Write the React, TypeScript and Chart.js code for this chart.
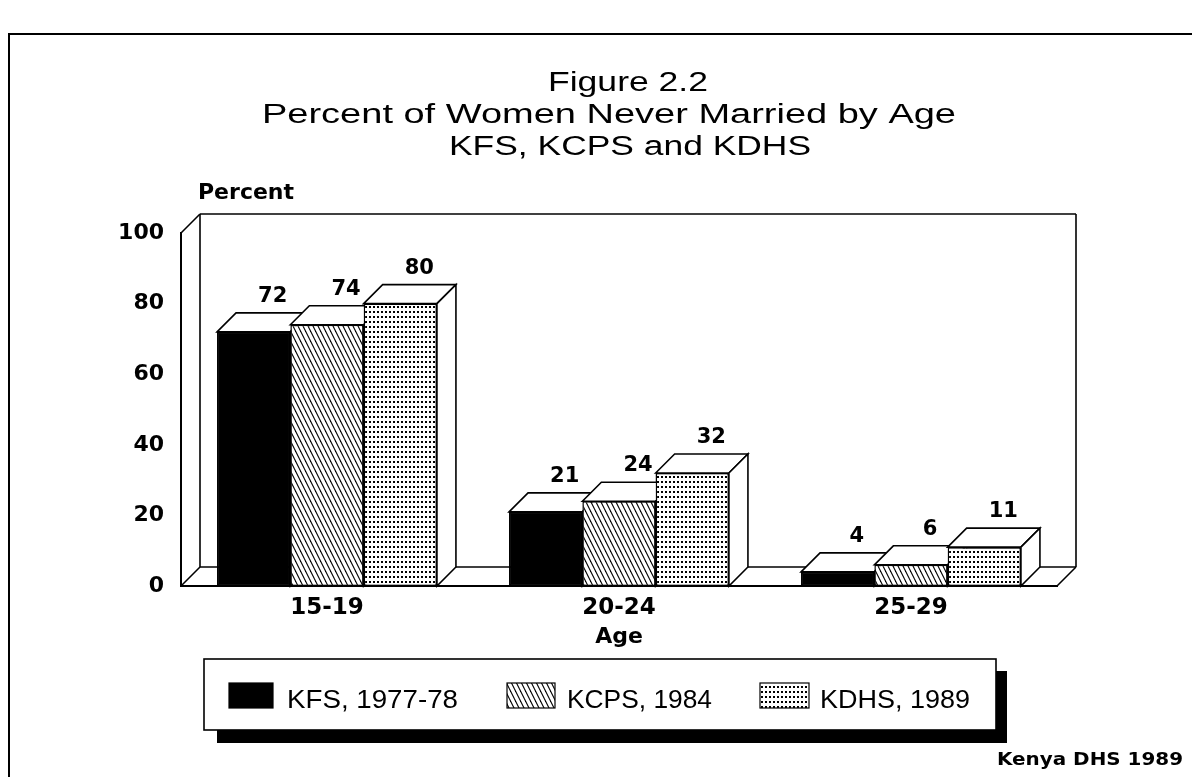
import React, { useEffect, useRef } from 'react';
import { Chart, registerables } from 'chart.js';

Chart.register(...registerables);

// ---- data ----
const categories = ['15-19', '20-24', '25-29'];
const seriesNames = ['KFS, 1977-78', 'KCPS, 1984', 'KDHS, 1989'];
const kfsValues = [72, 21, 4];
const kcpsValues = [74, 24, 6];
const kdhsValues = [80, 32, 11];
const yTickValues = [0, 20, 40, 60, 80, 100];
const titleLines = ['Figure 2.2', 'Percent of Women Never Married by Age', 'KFS, KCPS and KDHS'];
const yAxisLabel = 'Percent';
const xAxisLabel = 'Age';
const sourceNote = 'Kenya DHS 1989';

const DEPTH = 19;
const BOLD_FONT = '"DejaVu Sans", sans-serif';
const PLAIN_FONT = '"Liberation Sans", Arial, sans-serif';

function makeHatch(ctx: CanvasRenderingContext2D): CanvasPattern {
  const c = document.createElement('canvas');
  c.width = 5;
  c.height = 10;
  const g = c.getContext('2d')!;
  g.fillStyle = '#fff';
  g.fillRect(0, 0, 5, 10);
  g.strokeStyle = '#000';
  g.lineWidth = 1.1;
  for (let k = -3; k <= 3; k++) {
    g.beginPath();
    g.moveTo(k * 5 - 5, -10);
    g.lineTo(k * 5 + 10, 20);
    g.stroke();
  }
  return ctx.createPattern(c, 'repeat')!;
}

function makeDots(ctx: CanvasRenderingContext2D): CanvasPattern {
  const c = document.createElement('canvas');
  c.width = 4;
  c.height = 5;
  const g = c.getContext('2d')!;
  g.fillStyle = '#fff';
  g.fillRect(0, 0, 4, 5);
  g.fillStyle = '#000';
  g.fillRect(1, 1, 2, 2);
  return ctx.createPattern(c, 'repeat')!;
}

function drawText(
  ctx: CanvasRenderingContext2D,
  text: string,
  x: number,
  y: number,
  font: string,
  align: 'left' | 'center' | 'right',
  opts: { width?: number; scaleX?: number } = {}
) {
  ctx.save();
  ctx.font = font;
  const w = ctx.measureText(text).width;
  const sx = opts.width ? opts.width / w : opts.scaleX ?? 1;
  const W = w * sx;
  const left = align === 'left' ? x : align === 'center' ? x - W / 2 : x - W;
  ctx.translate(left, y);
  ctx.scale(sx, 1);
  ctx.textAlign = 'left';
  ctx.textBaseline = 'alphabetic';
  ctx.fillStyle = '#000';
  ctx.fillText(text, 0, 0);
  ctx.restore();
}

function polygon(ctx: CanvasRenderingContext2D, pts: number[][], fill: string | null) {
  ctx.beginPath();
  ctx.moveTo(pts[0][0], pts[0][1]);
  for (let i = 1; i < pts.length; i++) ctx.lineTo(pts[i][0], pts[i][1]);
  ctx.closePath();
  if (fill) {
    ctx.fillStyle = fill;
    ctx.fill();
  }
  ctx.stroke();
}

function line(ctx: CanvasRenderingContext2D, x1: number, y1: number, x2: number, y2: number) {
  ctx.beginPath();
  ctx.moveTo(x1, y1);
  ctx.lineTo(x2, y2);
  ctx.stroke();
}

function makeScenePlugin(fills: (string | CanvasPattern)[]) {
  return {
    id: 'scene3d',
    beforeDraw(chart: any) {
      const ctx: CanvasRenderingContext2D = chart.ctx;
      ctx.save();
      ctx.fillStyle = '#fff';
      ctx.fillRect(0, 0, chart.width, chart.height);
      // outer frame
      ctx.strokeStyle = '#000';
      ctx.lineWidth = 2;
      ctx.beginPath();
      ctx.moveTo(9, chart.height);
      ctx.lineTo(9, 34);
      ctx.lineTo(chart.width, 34);
      ctx.stroke();
      ctx.restore();

      // title
      const tFont = `27px ${PLAIN_FONT}`;
      const tPos = [
        { x: 628, w: 160 },
        { x: 609, w: 694 },
        { x: 630, w: 362 },
      ];
      titleLines.forEach((t, i) => {
        drawText(ctx, t, tPos[i].x, 91 + i * 32, tFont, 'center', { width: tPos[i].w });
      });
      // y axis label
      drawText(ctx, yAxisLabel, 198, 199, `bold 22px ${BOLD_FONT}`, 'left');
    },
    beforeDatasetsDraw(chart: any) {
      const ctx: CanvasRenderingContext2D = chart.ctx;
      const { left, right, top, bottom } = chart.chartArea;
      const d = DEPTH;
      ctx.save();
      ctx.strokeStyle = '#000';
      ctx.lineWidth = 1.6;
      // back wall
      line(ctx, left, top, left + d, top - d);
      line(ctx, left + d, top - d, right + d, top - d);
      line(ctx, left + d, top - d, left + d, bottom - d);
      line(ctx, right + d, top - d, right + d, bottom - d);
      // floor
      line(ctx, left + d, bottom - d, right + d, bottom - d);
      line(ctx, left, bottom, left + d, bottom - d);
      line(ctx, right, bottom, right + d, bottom - d);
      line(ctx, left, bottom, right, bottom);
      ctx.restore();
    },
    afterDatasetsDraw(chart: any) {
      const ctx: CanvasRenderingContext2D = chart.ctx;
      const d = DEPTH;
      const metas = chart.data.datasets.map((_: any, i: number) => chart.getDatasetMeta(i));
      const labels: { x: number; y: number; v: number }[] = [];
      for (let j = 0; j < categories.length; j++) {
        for (let i = 0; i < metas.length; i++) {
          const bar = metas[i].data[j];
          const { x, y, base, width } = bar.getProps(['x', 'y', 'base', 'width'], true);
          bar.draw(ctx);
          const l = x - width / 2;
          const r = x + width / 2;
          ctx.save();
          ctx.strokeStyle = '#000';
          ctx.lineWidth = 1.6;
          ctx.lineJoin = 'miter';
          polygon(ctx, [[l, y], [l + d, y - d], [r + d, y - d], [r, y]], '#fff');
          polygon(ctx, [[r, y], [r + d, y - d], [r + d, base - d], [r, base]], '#fff');
          ctx.restore();
          labels.push({ x: x + d, y: y - d - 11, v: chart.data.datasets[i].data[j] });
        }
      }
      labels.forEach((lb) => drawText(ctx, String(lb.v), lb.x, lb.y, `bold 21px ${BOLD_FONT}`, 'center'));
    },
    afterDraw(chart: any) {
      const ctx: CanvasRenderingContext2D = chart.ctx;
      ctx.save();
      // legend shadow
      ctx.fillStyle = '#000';
      ctx.fillRect(217, 730, 790, 13);
      ctx.fillRect(996, 671, 11, 72);
      // legend box
      ctx.fillStyle = '#fff';
      ctx.fillRect(204, 659, 792, 71);
      ctx.strokeStyle = '#000';
      ctx.lineWidth = 1.6;
      ctx.strokeRect(204, 659, 792, 71);
      // swatches
      const sw = [
        { x: 229, w: 44 },
        { x: 507, w: 48 },
        { x: 760, w: 49 },
      ];
      const tx = [
        { x: 287, w: 171 },
        { x: 567, w: 145 },
        { x: 820, w: 150 },
      ];
      seriesNames.forEach((name, i) => {
        ctx.fillStyle = fills[i] as any;
        ctx.fillRect(sw[i].x, 683, sw[i].w, 25);
        ctx.lineWidth = 1.2;
        ctx.strokeRect(sw[i].x, 683, sw[i].w, 25);
        drawText(ctx, name, tx[i].x, 708, `25px ${PLAIN_FONT}`, 'left', { width: tx[i].w });
      });
      ctx.restore();
      // source note
      drawText(ctx, sourceNote, 1183, 765, `bold 18px ${BOLD_FONT}`, 'right', { width: 186 });
    },
  };
}

export default function App() {
  const ref = useRef<HTMLCanvasElement>(null);
  useEffect(() => {
    const canvas = ref.current!;
    const ctx = canvas.getContext('2d')!;
    const fills: (string | CanvasPattern)[] = ['#000', makeHatch(ctx), makeDots(ctx)];
    const series = [kfsValues, kcpsValues, kdhsValues];
    const chart = new Chart(canvas, {
      type: 'bar',
      data: {
        labels: categories,
        datasets: series.map((vals, i) => ({
          label: seriesNames[i],
          data: vals,
          backgroundColor: fills[i] as any,
          borderColor: '#000',
          borderWidth: 1.5,
          borderSkipped: false,
          categoryPercentage: 0.753,
          barPercentage: 1,
        })),
      },
      options: {
        responsive: false,
        animation: false,
        devicePixelRatio: 1,
        layout: { padding: { top: 233, right: 135, bottom: 127, left: 0 } },
        plugins: {
          legend: { display: false },
          tooltip: { enabled: false },
          title: { display: false },
        },
        scales: {
          x: {
            grid: { display: false },
            border: { display: true, color: '#000', width: 2 },
            ticks: {
              color: '#000',
              padding: 0,
              font: { family: BOLD_FONT, size: 23, weight: 'bold', lineHeight: 1.2 },
            },
            title: {
              display: true,
              text: xAxisLabel,
              color: '#000',
              font: { family: BOLD_FONT, size: 22, weight: 'bold', lineHeight: 1.2 },
              padding: { top: 2, bottom: 0 },
            },
          },
          y: {
            min: 0,
            max: 100,
            afterFit: (s: any) => {
              s.width = 181;
            },
            afterBuildTicks: (s: any) => {
              s.ticks = yTickValues.map((v) => ({ value: v }));
            },
            grid: { display: false },
            border: { display: true, color: '#000', width: 2 },
            ticks: {
              color: '#000',
              padding: 9,
              font: { family: BOLD_FONT, size: 22, weight: 'bold', lineHeight: 1.2 },
            },
          },
        },
      } as any,
      plugins: [makeScenePlugin(fills) as any],
    });
    return () => chart.destroy();
  }, []);
  return (
    <div style={{ position: 'absolute', left: 0, top: 0, width: 1192, height: 777, background: '#fff' }}>
      <canvas ref={ref} width={1192} height={777} style={{ display: 'block', width: 1192, height: 777 }} />
    </div>
  );
}
